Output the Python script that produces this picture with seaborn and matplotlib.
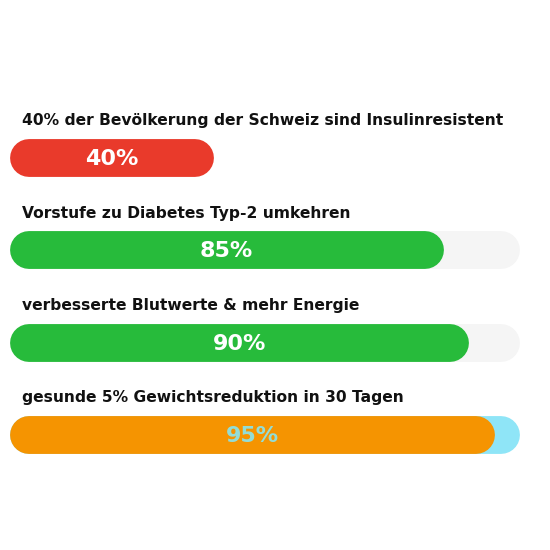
import matplotlib
matplotlib.use("Agg")
import matplotlib.pyplot as plt
import seaborn as sns
import pandas as pd

labels = [
    "40% der Bevölkerung der Schweiz sind Insulinresistent",
    "Vorstufe zu Diabetes Typ-2 umkehren",
    "verbesserte Blutwerte & mehr Energie",
    "gesunde 5% Gewichtsreduktion in 30 Tagen",
]
values = [40, 85, 90, 95]
track_max = [100, 100, 100, 100]
bar_colors = ["#e93a2b", "#27bb3b", "#27bb3b", "#f59401"]
track_colors = ["#ffffff", "#f5f5f5", "#f5f5f5", "#8fe5f7"]
value_text_colors = ["#ffffff", "#ffffff", "#ffffff", "#93ddd6"]

df = pd.DataFrame({"label": labels, "value": values, "track": track_max})

sns.set_theme(style="white")
fig = plt.figure(figsize=(5.5, 5.5), dpi=100)
ax = fig.add_axes([0, 0, 1, 1])

bar_w = 0.41
sns.barplot(data=df, x="track", y="label", hue="label", palette=track_colors,
            orient="h", width=bar_w, legend=False, ax=ax, saturation=1)
sns.barplot(data=df, x="value", y="label", hue="label", palette=bar_colors,
            orient="h", width=bar_w, legend=False, ax=ax, saturation=1)

px_per_x = 5.1
px_per_y = 92.3
ax.set_xlim(-10 / px_per_x, 540 / px_per_x)
ax.set_ylim((550 - 158) / px_per_y, -158 / px_per_y)
ax.axis("off")

# Replace the seaborn rectangles by pill shapes (thick lines with round caps)
patches = list(ax.patches)
for z, p in enumerate(patches):
    x, y = p.get_x(), p.get_y()
    w, h = p.get_width(), p.get_height()
    fc = p.get_facecolor()
    p.remove()
    if w <= 0:
        continue
    h_px = h * px_per_y
    r = (h_px / 2) / px_per_x
    lw_pt = h_px * 72 / fig.dpi
    yc = y + h / 2
    ax.plot([x + r, x + w - r], [yc, yc], color=fc, linewidth=lw_pt,
            solid_capstyle="round", zorder=2 + z * 0.01)

for i, (lab, v) in enumerate(zip(labels, values)):
    ax.text(12 / px_per_x, i - 37 / px_per_y, lab, ha="left", va="center",
            fontsize=11.2, fontweight="bold", color="#111111",
            family="DejaVu Sans", zorder=5)
    ax.text(v / 2, i + 1 / px_per_y, f"{v}%", ha="center", va="center",
            fontsize=16, fontweight="bold", color=value_text_colors[i],
            family="DejaVu Sans", zorder=5)

fig.savefig("out.png", dpi=100, facecolor="white")
